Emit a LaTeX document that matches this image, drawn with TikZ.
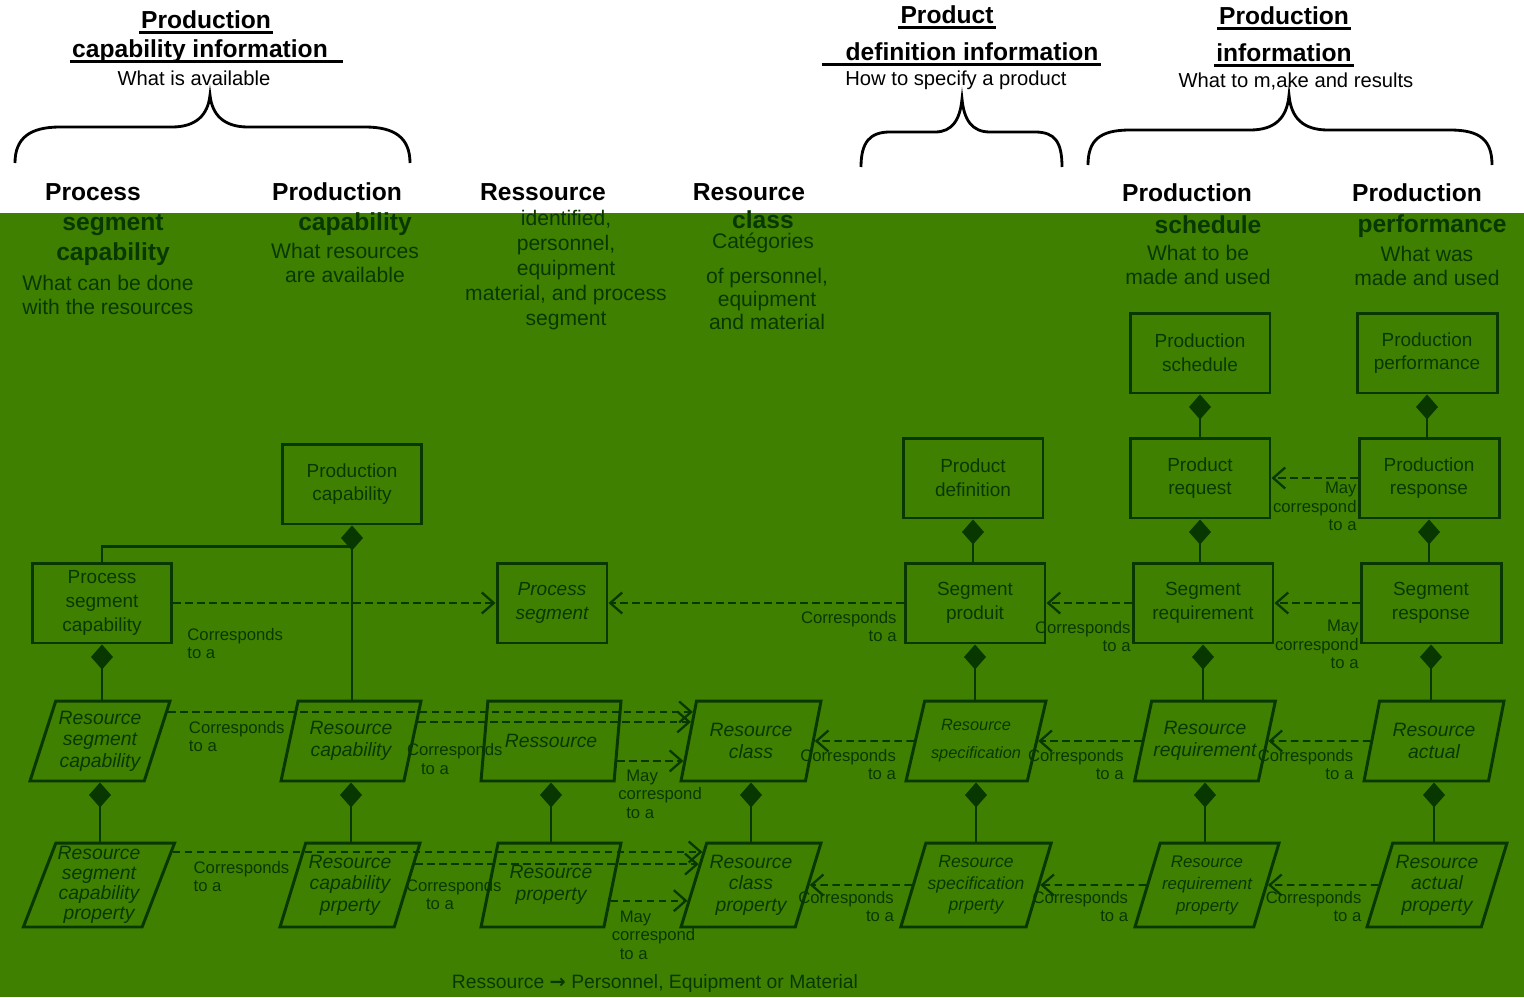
\documentclass[tikz,border=0pt]{standalone}
\usepackage{fontspec}
\setmainfont{Liberation Sans}
\newfontfamily\arrowfont{DejaVu Sans}
\usetikzlibrary{arrows.meta, positioning, shapes.geometric, calc}

\definecolor{bggreen}{RGB}{64,128,0}
\definecolor{dkgreen}{RGB}{8,56,0}

\tikzset{
  toph/.style={font=\bfseries\fontsize{14}{18}\selectfont, text=black, inner sep=1pt},
  topd/.style={font=\fontsize{11.5}{14}\selectfont, text=black, inner sep=1pt},
  uline/.style={draw=black, line width=1.6pt},
  brace/.style={draw=black, line width=1.6pt},
  colh/.style={font=\bfseries\fontsize{14}{17.6}\selectfont, text=black, inner sep=0pt, align=center},
  colg/.style={colh, text=dkgreen},
  cold/.style={font=\fontsize{12}{13.8}\selectfont, text=dkgreen, align=center, inner sep=0pt},
  entity/.style={draw=dkgreen, line width=1.7pt, minimum width=2.8cm, minimum height=1.6cm,
    align=center, text=dkgreen, font=\fontsize{10.8}{13.5}\selectfont},
  attr/.style={trapezium, trapezium left angle=68, trapezium right angle=112,
    trapezium stretches body, draw=dkgreen, line width=1.7pt, minimum width=2.8cm,
    minimum height=1.6cm, inner sep=1pt, align=center, text=dkgreen,
    font=\itshape\fontsize{11}{12.2}\selectfont},
  owns/.style={draw=dkgreen, line width=1.4pt, {Diamond[length=0.5cm, width=0.44cm]}-},
  corr/.style={draw=dkgreen, line width=1.1pt, dash pattern=on 0.15cm off 0.09cm,
    -{Straight Barb[length=0.24cm, width=0.42cm, line width=1.3pt]}},
  note/.style={text=dkgreen, font=\fontsize{9.5}{10.6}\selectfont, inner sep=0pt},
}

\begin{document}
\begin{tikzpicture}[x=0.02cm, y=-0.02cm]
\useasboundingbox (0,0) rectangle (1524,997);
\fill[white] (0,0) rectangle (1524,213);
\fill[bggreen] (0,213) rectangle (1524,997);

% information groups
\node[toph] (pcinfo1) at (206,20) {Production};
\node[toph] (pcinfo2) at (200,51) {capability information};
\node[topd] (pcinfo3) at (194,78) {What is available};
\draw[uline] ([yshift=-2.3pt]pcinfo1.base west) -- ([yshift=-2.3pt]pcinfo1.base east);
\draw[uline] ([yshift=-2.3pt]pcinfo2.base west) -- ([xshift=0.26cm,yshift=-2.3pt]pcinfo2.base east);

\node[toph] (pdinfo1) at (947,15) {Product};
\node[toph] (pdinfo2) at (972,52) {definition information};
\node[topd] (pdinfo3) at (956,80) {How to specify a product};
\draw[uline] ([yshift=-2.3pt]pdinfo1.base west) -- ([yshift=-2.3pt]pdinfo1.base east);
\draw[uline] ([xshift=-0.44cm,yshift=-2.3pt]pdinfo2.base west) -- ([yshift=-2.3pt]pdinfo2.base east);

\node[toph] (prinfo1) at (1284,16) {Production};
\node[toph] (prinfo2) at (1284,53) {information};
\node[topd] (prinfo3) at (1296,81) {What to m,ake and results};
\draw[uline] ([yshift=-2.3pt]prinfo1.base west) -- ([yshift=-2.3pt]prinfo1.base east);
\draw[uline] ([yshift=-2.3pt]prinfo2.base west) -- ([yshift=-2.3pt]prinfo2.base east);

\draw[brace] (15,163) .. controls (15,138) and (30,127) .. (60,127) -- (172,127)
  .. controls (196,127) and (208,115) .. (210,95) .. controls (212,115) and (224,127) .. (248,127)
  -- (365,127) .. controls (395,127) and (410,138) .. (410,163);
\draw[brace] (861,167) .. controls (861,142) and (870,132) .. (890,132) -- (935,132)
  .. controls (952,132) and (960,120) .. (962,99) .. controls (964,120) and (972,132) .. (990,132)
  -- (1035,132) .. controls (1055,132) and (1062,142) .. (1062,167);
\draw[brace] (1088,165) .. controls (1088,140) and (1100,130) .. (1130,130) -- (1250,130)
  .. controls (1275,130) and (1287,118) .. (1289,95) .. controls (1291,118) and (1303,130) .. (1328,130)
  -- (1450,130) .. controls (1480,130) and (1492,140) .. (1492,165);

% column headings
\node[colh] (hpsc) at (93,192) {Process};
\node[colg] (hpscg) at (113,240) {segment\\capability};
\node[cold] (hpscd) at (108,295) {What can be done\\with the resources};

\node[colh] (hpcap) at (337,192) {Production};
\node[colg] (hpcapg) at (355,224) {capability};
\node[cold] (hpcapd) at (345,263) {What resources\\are available};

\node[colh] (hres) at (543,192) {Ressource};
\node[cold, font=\fontsize{12}{14.2}\selectfont] (hresd) at (566,270)
  {identified,\\personnel,\\equipment\\material, and process\\segment};

\node[colh] (hrcl) at (749,192) {Resource};
\node[colg] (hrclg) at (763,220) {class};
\node[cold] (hrcld) at (763,243) {Catégories};
\node[cold, font=\fontsize{12}{13}\selectfont] (hrcld2) at (767,299) {of personnel,\\equipment\\and material};

\node[colh] (hpsch) at (1187,193) {Production};
\node[colg] (hpschg) at (1208,225) {schedule};
\node[cold] (hpschd) at (1198,265) {What to be\\made and used};

\node[colh] (hpperf) at (1417,193) {Production};
\node[colg] (hpperfg) at (1432,226) {performance};
\node[cold] (hpperfd) at (1427,266) {What was\\made and used};

% objects
\node[entity] (psched) at (1200,353) {Production\\schedule};
\node[entity] (pperf) at (1427,353) {Production\\performance};
\node[entity] (pcap) at (352,484) {Production\\capability};
\node[entity] (pdef) at (973,478) {Product\\definition};
\node[entity] (preq) at (1200,478) {Product\\request};
\node[entity] (presp) at (1429,478) {Production\\response};
\node[entity] (psegcap) at (102,603) {Process\\segment\\capability};
\node[entity, minimum width=2.2cm, font=\itshape\fontsize{10.8}{13.5}\selectfont] (pseg) at (552,603) {Process\\segment};
\node[entity] (segprod) at (975,603) {Segment\\produit};
\node[entity] (segreq) at (1203,603) {Segment\\requirement};
\node[entity] (segresp) at (1431,603) {Segment\\response};

\node[attr] (rsegcap) at (100,741) {Resource\\segment\\capability};
\node[attr] (rcap) at (351,741) {Resource\\capability};
\node[attr] (res) at (551,741) {Ressource};
\node[attr] (rclass) at (751,741) {Resource\\class};
\node[attr, font=\itshape\fontsize{9.3}{16}\selectfont] (rspec) at (976,741) {Resource\\specification};
\node[attr] (rreq) at (1205,741) {Resource\\requirement};
\node[attr] (ract) at (1434,741) {Resource\\actual};

\node[attr, minimum height=1.68cm, font=\itshape\fontsize{11}{11.3}\selectfont] (rsegcapp) at (99,885) {Resource\\segment\\capability\\property};
\node[attr, minimum height=1.68cm] (rcapp) at (350,885) {Resource\\capability\\prperty};
\node[attr, minimum height=1.68cm] (resp) at (551,885) {Resource\\property};
\node[attr, minimum height=1.68cm] (rclassp) at (751,885) {Resource\\class\\property};
\node[attr, minimum height=1.68cm, font=\itshape\fontsize{10}{12.2}\selectfont] (rspecp) at (976,885) {Resource\\specification\\prperty};
\node[attr, minimum height=1.68cm, font=\itshape\fontsize{9.6}{12.5}\selectfont] (rreqp) at (1207,885) {Resource\\requirement\\property};
\node[attr, minimum height=1.68cm] (ractp) at (1437,885) {Resource\\actual\\property};

% composition
\draw[owns] (psched.south) -- (psched.south |- preq.north);
\draw[owns] (pperf.south) -- (pperf.south |- presp.north);
\draw[owns] (pdef.south) -- (pdef.south |- segprod.north);
\draw[owns] (preq.south) -- (preq.south |- segreq.north);
\draw[owns] (presp.south) -- (presp.south |- segresp.north);
\draw[owns] (pcap.south) -- (pcap.south |- rcap.north);
\draw[draw=dkgreen, line width=1.4pt] (pcap.south) ++(0,21) -| (psegcap.north);
\draw[owns] (psegcap.south) -- (psegcap.south |- rsegcap.north);
\draw[owns] (segprod.south) -- (segprod.south |- rspec.north);
\draw[owns] (segreq.south) -- (segreq.south |- rreq.north);
\draw[owns] (segresp.south) -- (segresp.south |- ract.north);
\draw[owns] (rsegcap.south) -- (rsegcap.south |- rsegcapp.north);
\draw[owns] (rcap.south) -- (rcap.south |- rcapp.north);
\draw[owns] (res.south) -- (res.south |- resp.north);
\draw[owns] (rclass.south) -- (rclass.south |- rclassp.north);
\draw[owns] (rspec.south) -- (rspec.south |- rspecp.north);
\draw[owns] (rreq.south) -- (rreq.south |- rreqp.north);
\draw[owns] (ract.south) -- (ract.south |- ractp.north);

% correspondences
\draw[corr] (psegcap.east) -- node[note, pos=0, anchor=north west, align=left, xshift=0.26cm, yshift=-0.48cm] {Corresponds\\to a} (pseg.west);
\draw[corr] (segprod.west) -- node[note, pos=0, anchor=north east, align=right, xshift=-0.12cm, yshift=-0.14cm] {Corresponds\\to a} (pseg.east);
\draw[corr] (segreq.west) -- node[note, pos=0, anchor=north east, align=right, yshift=-0.34cm] {Corresponds\\to a} (segprod.east);
\draw[corr] (segresp.west) -- node[note, pos=0, anchor=north east, align=right, yshift=-0.32cm] {May\\correspond\\to a} (segreq.east);
\draw[corr] (presp.west) -- node[note, pos=0, anchor=north east, align=right, yshift=-0.06cm] {May\\correspond\\to a} (preq.east);

\draw[corr] ($(rsegcap.top right corner)!0.15!(rsegcap.bottom right corner)$) -- node[note, pos=0, anchor=north west, align=left, xshift=0.4cm, yshift=-0.16cm] {Corresponds\\to a} ($(rclass.top left corner)!0.15!(rclass.bottom left corner)$);
\draw[corr] ($(rcap.top right corner)!0.27!(rcap.bottom right corner)$) -- node[note, pos=0, anchor=north west, align=left, xshift=-0.24cm, yshift=-0.42cm] {Corresponds\\\hspace*{0.28cm}to a} ($(rclass.top left corner)!0.27!(rclass.bottom left corner)$);
\draw[corr] ($(res.top right corner)!0.74!(res.bottom right corner)$) -- node[note, pos=0, anchor=north west, align=left, yshift=-0.16cm] {\hspace*{0.16cm}May\\correspond\\\hspace*{0.16cm}to a} ($(rclass.top left corner)!0.74!(rclass.bottom left corner)$);
\draw[corr] (rspec.west) -- node[note, pos=0, anchor=north east, align=right, xshift=-0.34cm, yshift=-0.14cm] {Corresponds\\to a} (rclass.east);
\draw[corr] (rreq.west) -- node[note, pos=0, anchor=north east, align=right, xshift=-0.34cm, yshift=-0.14cm] {Corresponds\\to a} (rspec.east);
\draw[corr] (ract.west) -- node[note, pos=0, anchor=north east, align=right, xshift=-0.32cm, yshift=-0.14cm] {Corresponds\\to a} (rreq.east);

\draw[corr] ($(rsegcapp.top right corner)!0.12!(rsegcapp.bottom right corner)$) -- node[note, pos=0, anchor=north west, align=left, xshift=0.4cm, yshift=-0.16cm] {Corresponds\\to a} ($(rclassp.top left corner)!0.12!(rclassp.bottom left corner)$);
\draw[corr] ($(rcapp.top right corner)!0.26!(rcapp.bottom right corner)$) -- node[note, pos=0, anchor=north west, align=left, xshift=-0.2cm, yshift=-0.28cm] {Corresponds\\\hspace*{0.4cm}to a} ($(rclassp.top left corner)!0.26!(rclassp.bottom left corner)$);
\draw[corr] ($(resp.top right corner)!0.68!(resp.bottom right corner)$) -- node[note, pos=0, anchor=north west, align=left, yshift=-0.18cm] {\hspace*{0.16cm}May\\correspond\\\hspace*{0.16cm}to a} ($(rclassp.top left corner)!0.68!(rclassp.bottom left corner)$);
\draw[corr] (rspecp.west) -- node[note, pos=0, anchor=north east, align=right, xshift=-0.34cm, yshift=-0.1cm] {Corresponds\\to a} (rclassp.east);
\draw[corr] (rreqp.west) -- node[note, pos=0, anchor=north east, align=right, xshift=-0.34cm, yshift=-0.1cm] {Corresponds\\to a} (rspecp.east);
\draw[corr] (ractp.west) -- node[note, pos=0, anchor=north east, align=right, xshift=-0.32cm, yshift=-0.1cm] {Corresponds\\to a} (rreqp.east);

\node[note, font=\fontsize{11}{13}\selectfont] (legend) at (655,983) {Ressource {\arrowfont\bfseries →} Personnel, Equipment or Material};
\end{tikzpicture}
\end{document}
